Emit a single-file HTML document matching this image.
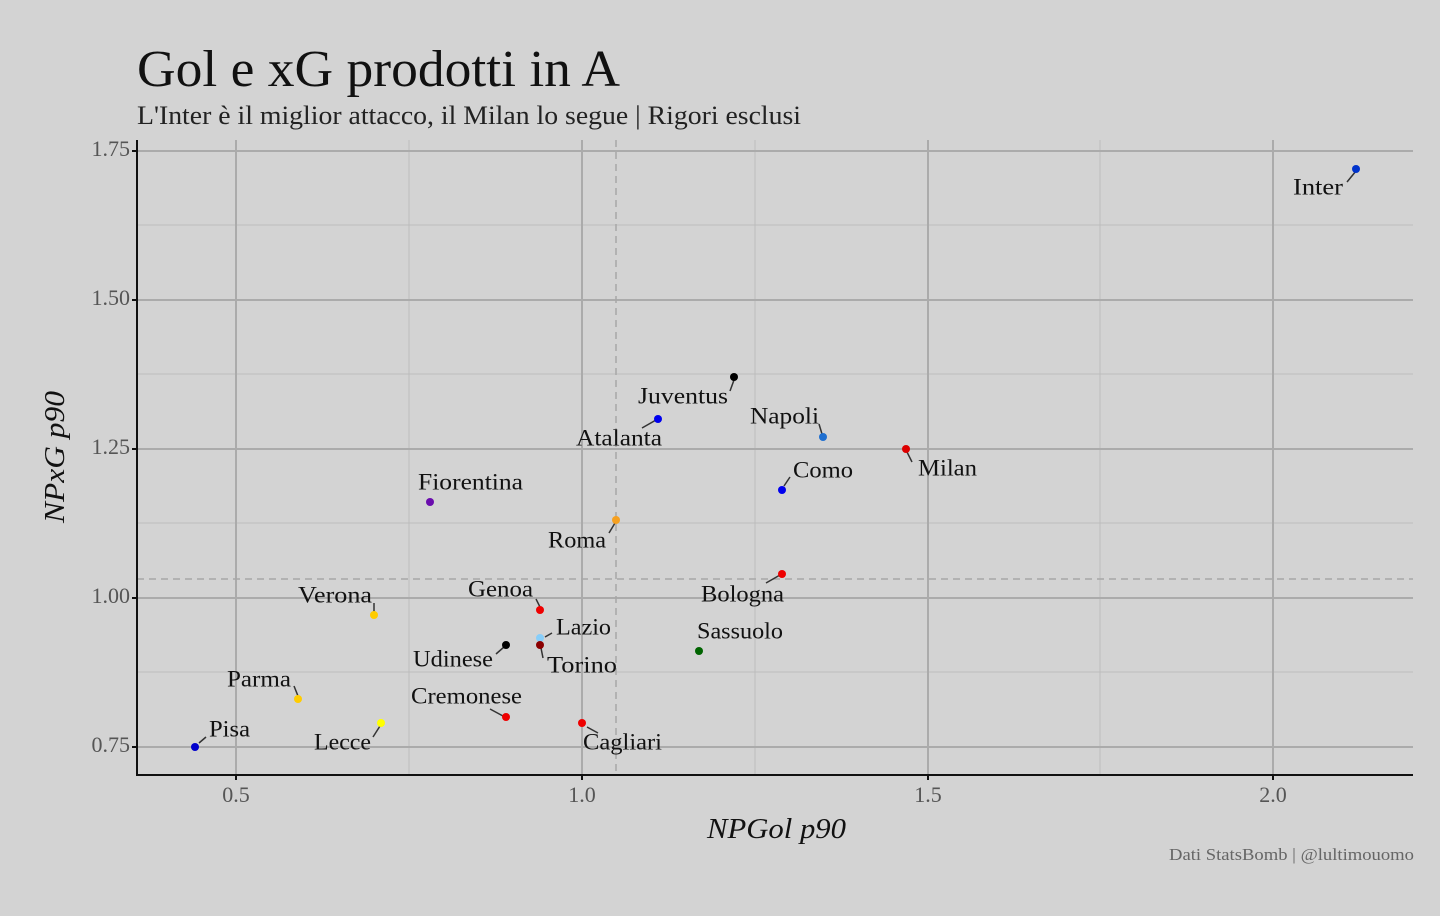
<!DOCTYPE html>
<html><head><meta charset="utf-8"><style>
html,body{margin:0;padding:0;background:#d3d3d3;}
svg{display:block;font-family:"Liberation Serif",serif;}
</style></head><body>
<svg width="1440" height="916" viewBox="0 0 1440 916" xmlns="http://www.w3.org/2000/svg">
<rect width="1440" height="916" fill="#d3d3d3"/>
<text x="137" y="86" font-size="52" fill="#111" textLength="483" lengthAdjust="spacingAndGlyphs">Gol e xG prodotti in A</text>
<text x="137" y="124" font-size="26" fill="#222" textLength="664" lengthAdjust="spacingAndGlyphs">L'Inter è il miglior attacco, il Milan lo segue | Rigori esclusi</text>
<g stroke="#bdbdbd" stroke-width="1">
<line x1="409" y1="140" x2="409" y2="775"/><line x1="755" y1="140" x2="755" y2="775"/><line x1="1100" y1="140" x2="1100" y2="775"/>
<line x1="137" y1="225" x2="1413" y2="225"/><line x1="137" y1="374" x2="1413" y2="374"/><line x1="137" y1="523" x2="1413" y2="523"/><line x1="137" y1="672" x2="1413" y2="672"/>
</g>
<g stroke="#ababab" stroke-width="2">
<line x1="236" y1="140" x2="236" y2="775"/><line x1="582" y1="140" x2="582" y2="775"/><line x1="928" y1="140" x2="928" y2="775"/><line x1="1273" y1="140" x2="1273" y2="775"/>
<line x1="137" y1="151" x2="1413" y2="151"/><line x1="137" y1="300" x2="1413" y2="300"/><line x1="137" y1="449" x2="1413" y2="449"/><line x1="137" y1="598" x2="1413" y2="598"/><line x1="137" y1="747" x2="1413" y2="747"/>
</g>
<g stroke="#a8a8a8" stroke-width="1.5" stroke-dasharray="7,5">
<line x1="616" y1="140" x2="616" y2="775"/><line x1="137" y1="579" x2="1413" y2="579"/>
</g>
<g stroke="#111" stroke-width="2">
<line x1="137" y1="140" x2="137" y2="776"/><line x1="136" y1="775" x2="1413" y2="775"/>
<line x1="132" y1="151" x2="137" y2="151"/><line x1="132" y1="300" x2="137" y2="300"/><line x1="132" y1="449" x2="137" y2="449"/><line x1="132" y1="598" x2="137" y2="598"/><line x1="132" y1="747" x2="137" y2="747"/>
<line x1="236" y1="775" x2="236" y2="780"/><line x1="582" y1="775" x2="582" y2="780"/><line x1="928" y1="775" x2="928" y2="780"/><line x1="1273" y1="775" x2="1273" y2="780"/>
</g>
<g font-size="22" fill="#555" text-anchor="end" dominant-baseline="middle">
<text x="130" y="151">1.75</text><text x="130" y="300">1.50</text><text x="130" y="449">1.25</text><text x="130" y="598">1.00</text><text x="130" y="747">0.75</text>
</g>
<g font-size="22" fill="#555" text-anchor="middle">
<text x="236" y="802">0.5</text><text x="582" y="802">1.0</text><text x="928" y="802">1.5</text><text x="1273" y="802">2.0</text>
</g>
<text x="707" y="838" font-size="29" font-style="italic" fill="#111" textLength="139" lengthAdjust="spacingAndGlyphs">NPGol p90</text>
<text transform="translate(64,523) rotate(-90)" font-size="29" font-style="italic" fill="#111" textLength="132" lengthAdjust="spacingAndGlyphs">NPxG p90</text>
<text x="1169" y="860" font-size="17" fill="#666" textLength="245" lengthAdjust="spacingAndGlyphs">Dati StatsBomb | @lultimouomo</text>
<g stroke="#333" stroke-width="1.5">
<line x1="1347" y1="182" x2="1356" y2="171"/><line x1="730" y1="391" x2="734" y2="380"/><line x1="642" y1="428" x2="656" y2="420"/>
<line x1="819" y1="424" x2="822" y2="434"/><line x1="912" y1="462" x2="907" y2="452"/><line x1="784" y1="486" x2="790" y2="477"/>
<line x1="609" y1="533" x2="615" y2="523"/><line x1="766" y1="583" x2="780" y2="575"/><line x1="536" y1="599" x2="540" y2="607"/>
<line x1="374" y1="603" x2="374" y2="612"/><line x1="545" y1="637" x2="552" y2="633"/><line x1="496" y1="654" x2="504" y2="647"/>
<line x1="541" y1="648" x2="543" y2="658"/><line x1="294" y1="686" x2="298" y2="696"/><line x1="490" y1="709" x2="503" y2="716"/>
<line x1="587" y1="727" x2="598" y2="733"/><line x1="373" y1="737" x2="380" y2="726"/><line x1="199" y1="743" x2="206" y2="737"/>
</g>
<g>
<circle cx="1356" cy="169" r="4" fill="#0033cc"/><circle cx="734" cy="377" r="4" fill="#000"/><circle cx="658" cy="419" r="4" fill="#0000ee"/>
<circle cx="823" cy="437" r="4" fill="#1f6fd0"/><circle cx="906" cy="449" r="4" fill="#dd0000"/><circle cx="782" cy="490" r="4" fill="#0000ee"/>
<circle cx="430" cy="502" r="4" fill="#6a0dad"/><circle cx="616" cy="520" r="4" fill="#f5a020"/><circle cx="782" cy="574" r="4" fill="#ee0000"/>
<circle cx="540" cy="610" r="4" fill="#ee0000"/><circle cx="374" cy="615" r="4" fill="#ffcc00"/><circle cx="540" cy="638" r="4" fill="#87cefa"/>
<circle cx="506" cy="645" r="4" fill="#000"/><circle cx="540" cy="645" r="4" fill="#8b0000"/><circle cx="699" cy="651" r="4" fill="#006400"/>
<circle cx="298" cy="699" r="4" fill="#ffcc00"/><circle cx="506" cy="717" r="4" fill="#ee0000"/><circle cx="582" cy="723" r="4" fill="#ee0000"/>
<circle cx="381" cy="723" r="4" fill="#ffff00"/><circle cx="195" cy="747" r="4" fill="#0000cc"/>
</g>
<g font-size="23" fill="#111" dominant-baseline="middle" lengthAdjust="spacingAndGlyphs">
<text x="1293" y="189" textLength="50" lengthAdjust="spacingAndGlyphs">Inter</text>
<text x="638" y="398" textLength="90" lengthAdjust="spacingAndGlyphs">Juventus</text>
<text x="576" y="440" textLength="86" lengthAdjust="spacingAndGlyphs">Atalanta</text>
<text x="750" y="418" textLength="69" lengthAdjust="spacingAndGlyphs">Napoli</text>
<text x="918" y="470" textLength="59" lengthAdjust="spacingAndGlyphs">Milan</text>
<text x="793" y="472" textLength="60" lengthAdjust="spacingAndGlyphs">Como</text>
<text x="418" y="484" textLength="105" lengthAdjust="spacingAndGlyphs">Fiorentina</text>
<text x="548" y="542" textLength="58" lengthAdjust="spacingAndGlyphs">Roma</text>
<text x="701" y="596" textLength="83" lengthAdjust="spacingAndGlyphs">Bologna</text>
<text x="468" y="591" textLength="65" lengthAdjust="spacingAndGlyphs">Genoa</text>
<text x="298" y="597" textLength="74" lengthAdjust="spacingAndGlyphs">Verona</text>
<text x="556" y="629" textLength="55" lengthAdjust="spacingAndGlyphs">Lazio</text>
<text x="413" y="661" textLength="80" lengthAdjust="spacingAndGlyphs">Udinese</text>
<text x="547" y="667" textLength="70" lengthAdjust="spacingAndGlyphs">Torino</text>
<text x="697" y="633" textLength="86" lengthAdjust="spacingAndGlyphs">Sassuolo</text>
<text x="227" y="681" textLength="64" lengthAdjust="spacingAndGlyphs">Parma</text>
<text x="411" y="698" textLength="111" lengthAdjust="spacingAndGlyphs">Cremonese</text>
<text x="583" y="744" textLength="79" lengthAdjust="spacingAndGlyphs">Cagliari</text>
<text x="314" y="744" textLength="57" lengthAdjust="spacingAndGlyphs">Lecce</text>
<text x="209" y="731" textLength="41" lengthAdjust="spacingAndGlyphs">Pisa</text>
</g>
</svg>
</body></html>
